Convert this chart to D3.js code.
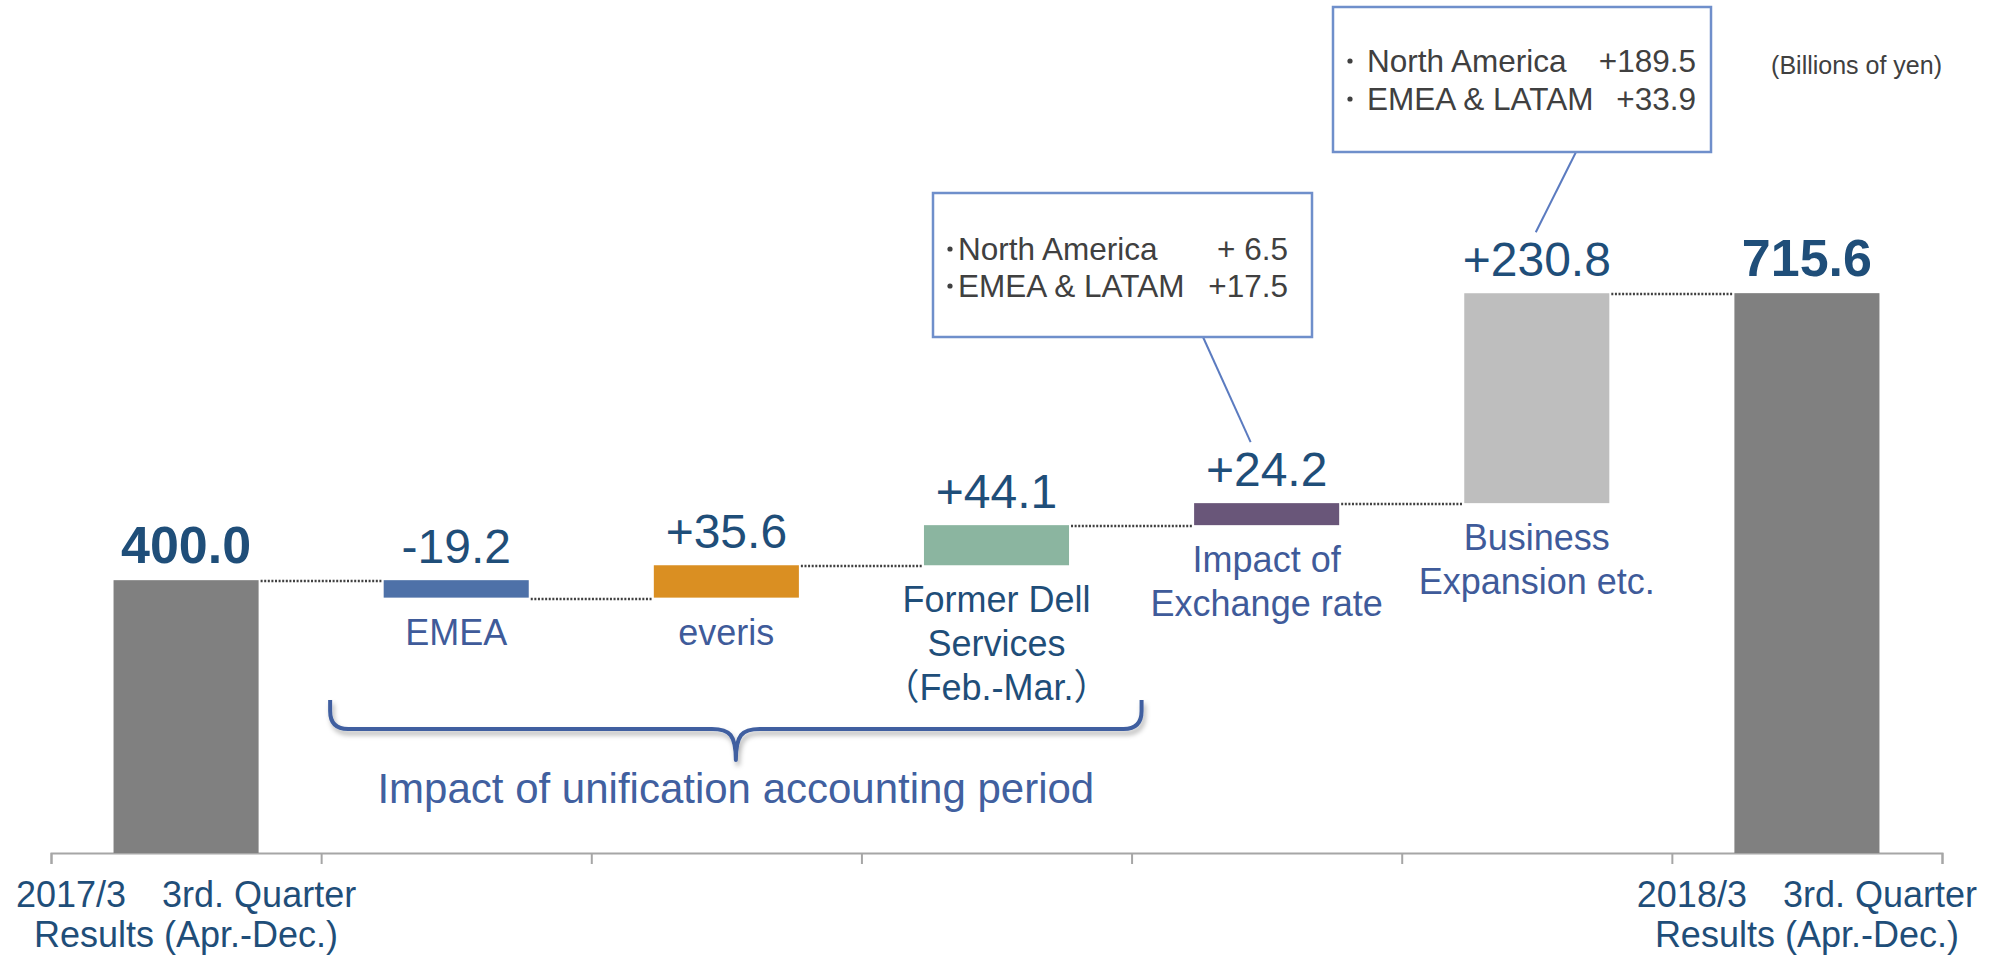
<!DOCTYPE html>
<html>
<head>
<meta charset="utf-8">
<script src="https://cdn.jsdelivr.net/npm/d3@7"></script>
<style>
    body { margin: 0; background: #fff; }
    svg text { font-family: "Liberation Sans", Arial, "Noto Sans CJK JP", sans-serif; }
</style>
</head>
<body>
<div id="chart"></div>
<script>
// Waterfall: 3rd quarter results bridge (billions of yen)

const categories = ['start', 'emea', 'everis', 'dell', 'fx', 'business', 'end'];
const values = [400.0, -19.2, 35.6, 44.1, 24.2, 230.8, 715.6];
const isTotal = [true, false, false, false, false, false, true];
const valueLabels = ['400.0', '-19.2', '+35.6', '+44.1', '+24.2', '+230.8', '715.6'];
const categoryLabels = [
    ['2017/3\u30003rd. Quarter', 'Results (Apr.-Dec.)'],
    ['EMEA'],
    ['everis'],
    ['Former Dell', 'Services', '\uFF08Feb.-Mar.\uFF09'],
    ['Impact of', 'Exchange rate'],
    ['Business', 'Expansion etc.'],
    ['2018/3\u30003rd. Quarter', 'Results (Apr.-Dec.)']
];
const fxBreakdown = [['North America', '+ 6.5'], ['EMEA & LATAM', '+17.5']];
const businessBreakdown = [['North America', '+189.5'], ['EMEA & LATAM', '+33.9']];
const bracketLabel = 'Impact of unification accounting period';
const unitLabel = '(Billions of yen)';

const barColors = {
    start: '#808080', emea: '#4E71A8', everis: '#DA8F22', dell: '#8BB5A0',
    fx: '#695679', business: '#BEBEBE', end: '#808080'
};
const labelColors = {
    start: '#1F4E79', emea: '#3F5B9A', everis: '#3F5B9A', dell: '#1F4E79',
    fx: '#3F5B9A', business: '#3F5B9A', end: '#1F4E79'
};

const width = 2002, height = 955;

const svg = d3.select('#chart')
    .append('svg')
    .attr('width', width)
    .attr('height', height);

// Scales
const x = d3.scaleBand()
    .domain(categories)
    .range([51, 1942])
    .paddingInner(0.463)
    .paddingOuter(0.2315);

const y = d3.scaleLinear()
    .domain([100, 800])
    .range([853, 216.4]);

// Waterfall geometry
let running = 0;
const bars = categories.map((c, i) => {
    let from, to;
    if (isTotal[i]) {
        from = y.domain()[0];
        to = values[i];
        running = values[i];
    } else {
        from = running;
        to = running + values[i];
        running = to;
    }
    return { key: c, from, to, end: running, label: valueLabels[i], lines: categoryLabels[i], total: isTotal[i] };
});

// Axis with ticks on category boundaries
const xEdge = d3.scaleLinear().domain([0, categories.length]).range(x.range());
svg.append('g')
    .attr('transform', `translate(0,${y(100)})`)
    .call(d3.axisBottom(xEdge)
        .tickValues(d3.range(categories.length + 1))
        .tickSize(11)
        .tickSizeOuter(11)
        .tickFormat(''))
    .call(g => g.selectAll('path, line').style('stroke', '#A6A6A6').style('stroke-width', 2));

// Dotted connectors
svg.append('g')
    .selectAll('line')
    .data(bars.slice(0, -1))
    .enter()
    .append('line')
    .attr('x1', d => x(d.key) + x.bandwidth() + 2)
    .attr('x2', (d, i) => x(categories[i + 1]) - 2)
    .attr('y1', d => Math.round(y(d.end)) + 1)
    .attr('y2', d => Math.round(y(d.end)) + 1)
    .style('stroke', '#404040')
    .style('stroke-width', 2.5)
    .style('stroke-dasharray', '2,1.6');

// Bars
svg.append('g')
    .selectAll('rect')
    .data(bars)
    .enter()
    .append('rect')
    .attr('x', d => x(d.key))
    .attr('width', x.bandwidth())
    .attr('y', d => y(Math.max(d.from, d.to)))
    .attr('height', d => Math.abs(y(d.from) - y(d.to)))
    .style('fill', d => barColors[d.key]);

// Value labels
svg.append('g')
    .selectAll('text')
    .data(bars)
    .enter()
    .append('text')
    .attr('x', d => x(d.key) + x.bandwidth() / 2)
    .attr('y', d => y(Math.max(d.from, d.to)) - 17)
    .style('text-anchor', 'middle')
    .style('fill', '#1F4E79')
    .style('font-size', d => d.total ? '52px' : '48px')
    .style('font-weight', d => d.total ? 'bold' : 'normal')
    .text(d => d.label);

// Category labels: totals under the axis, steps under their bar
const catLabels = svg.append('g')
    .selectAll('text')
    .data(bars)
    .enter()
    .append('text')
    .style('text-anchor', 'middle')
    .style('font-size', '36px')
    .style('fill', d => labelColors[d.key])
    .attr('y', d => d.total ? 907 : y(Math.min(d.from, d.to)) + 47);

catLabels.selectAll('tspan')
    .data(d => d.lines.map(t => ({ t, cx: x(d.key) + x.bandwidth() / 2, total: d.total })))
    .enter()
    .append('tspan')
    .attr('x', d => d.cx)
    .attr('dy', (d, i) => i === 0 ? 0 : (d.total ? 40 : 44))
    .text(d => d.t);

// Bracket under the unification steps
const defs = svg.append('defs');
defs.append('filter')
    .attr('id', 'shadow')
    .attr('x', '-5%').attr('y', '-50%')
    .attr('width', '110%').attr('height', '200%')
    .append('feDropShadow')
    .attr('dx', 2).attr('dy', 4)
    .attr('stdDeviation', 2.5)
    .attr('flood-color', '#000')
    .attr('flood-opacity', 0.3);

const bl = x('emea') - x.step() * x.paddingInner() / 2 + 9;
const br = x('dell') + x.bandwidth() + x.step() * x.paddingInner() / 2 + 10;
const bm = (bl + br) / 2;
const bTop = 700, bLine = 729, bTip = 760, r = 18;

const brace = d3.path();
brace.moveTo(bl, bTop);
brace.lineTo(bl, bLine - r);
brace.quadraticCurveTo(bl, bLine, bl + r, bLine);
brace.lineTo(bm - 24, bLine);
brace.bezierCurveTo(bm - 6, bLine, bm, bLine + 6, bm, bTip);
brace.bezierCurveTo(bm, bLine + 6, bm + 6, bLine, bm + 24, bLine);
brace.lineTo(br - r, bLine);
brace.quadraticCurveTo(br, bLine, br, bLine - r);
brace.lineTo(br, bTop);

svg.append('path')
    .attr('d', brace.toString())
    .attr('filter', 'url(#shadow)')
    .style('fill', 'none')
    .style('stroke', '#3F5FA0')
    .style('stroke-width', 4)
    .style('stroke-linejoin', 'round');

svg.append('text')
    .attr('x', bm)
    .attr('y', 803)
    .style('text-anchor', 'middle')
    .style('font-size', '42px')
    .style('fill', '#41609F')
    .text(bracketLabel);

// Callout boxes
function callout(box, rows, anchor) {
    const g = svg.append('g');
    const barKey = anchor.key;
    const bar = bars.find(b => b.key === barKey);
    const ex = x(barKey) + x.bandwidth() / 2 + anchor.dx;
    const ey = y(Math.max(bar.from, bar.to)) - 61;

    g.append('line')
        .attr('x1', anchor.sx)
        .attr('y1', box.y + box.h)
        .attr('x2', ex)
        .attr('y2', ey)
        .style('stroke', '#5B7BC0')
        .style('stroke-width', 2);

    g.append('rect')
        .attr('x', box.x)
        .attr('y', box.y)
        .attr('width', box.w)
        .attr('height', box.h)
        .style('fill', '#fff')
        .style('stroke', '#6F8FCB')
        .style('stroke-width', 2.5);

    rows.forEach((row, i) => {
        const by = box.y + box.first + i * box.gap;
        // bullet dot
        g.append('circle')
            .attr('cx', box.dot)
            .attr('cy', by - 11)
            .attr('r', 2.6)
            .style('fill', '#404040');
        g.append('text')
            .attr('x', box.text)
            .attr('y', by)
            .style('font-size', '31.5px')
            .style('fill', '#404040')
            .text(row[0]);
        g.append('text')
            .attr('x', box.num)
            .attr('y', by)
            .style('text-anchor', 'end')
            .style('font-size', '31.5px')
            .style('fill', '#404040')
            .text(row[1]);
    });
}

callout({ x: 933, y: 193, w: 379, h: 144, first: 67, gap: 37, dot: 950, text: 958, num: 1288 },
    fxBreakdown, { key: 'fx', dx: -16, sx: 1203 });
callout({ x: 1333, y: 7, w: 378, h: 145, first: 65, gap: 38, dot: 1350, text: 1367, num: 1696 },
    businessBreakdown, { key: 'business', dx: -1, sx: 1576 });

// Unit note
svg.append('text')
    .attr('x', 1942)
    .attr('y', 74)
    .style('text-anchor', 'end')
    .style('font-size', '25px')
    .style('fill', '#404040')
    .text(unitLabel);
</script>
</body>
</html>
